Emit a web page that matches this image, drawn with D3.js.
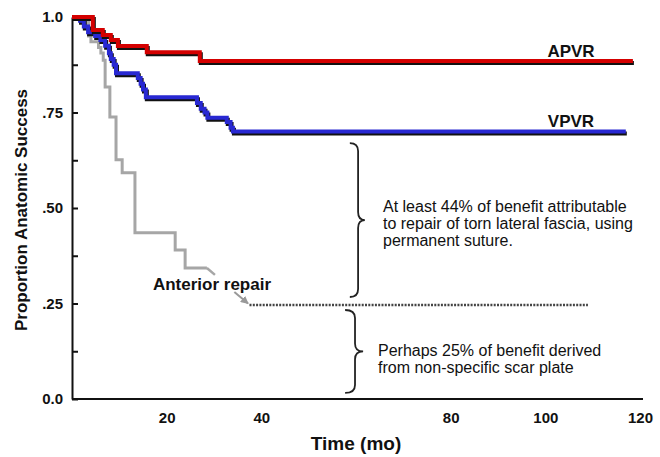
<!DOCTYPE html>
<html>
<head>
<meta charset="utf-8">
<script src="https://cdn.jsdelivr.net/npm/d3@7"></script>
<style>
  body { margin: 0; background: #fff; }
  svg { display: block; font-family: "Liberation Sans", Arial, sans-serif; }
</style>
</head>
<body>
<svg id="chart" width="660" height="457"></svg>
<script>
// Kaplan-Meier style step data (months, proportion)
const apvrTime = [0, 4.4, 6.5, 8.2, 9.7, 15.8, 27, 118.5];
const apvrSurv = [1.0, 0.966, 0.953, 0.94, 0.924, 0.908, 0.885, 0.885];

const vpvrTime = [0, 1.7, 2.5, 3.4, 4.9, 6.0, 7.0, 7.8, 8.2, 8.8, 9.3, 13.9, 14.5, 15.0, 15.6, 26.4, 27.2, 28.0, 28.6, 32.7, 33.5, 34.0, 117];
const vpvrSurv = [1.0, 0.99, 0.975, 0.96, 0.95, 0.94, 0.925, 0.905, 0.89, 0.875, 0.853, 0.84, 0.825, 0.81, 0.79, 0.775, 0.76, 0.75, 0.736, 0.725, 0.71, 0.70, 0.70];

const antTime = [0, 3.5, 4.0, 5.6, 6.1, 6.6, 7.0, 8.0, 9.3, 10.6, 13.3, 21.8, 23.9, 28.5];
const antSurv = [1.0, 0.95, 0.935, 0.92, 0.906, 0.887, 0.817, 0.738, 0.626, 0.592, 0.435, 0.39, 0.343, 0.343];

// projected floor of the anterior repair curve
const floorTime = [37.5, 109];
const floorSurv = [0.246, 0.246];

const yTicks = [0, 0.125, 0.25, 0.375, 0.5, 0.625, 0.75, 0.875, 1.0];
const yLabels = {0: "0.0", 0.25: ".25", 0.5: ".50", 0.75: ".75", 1: "1.0"};
const xTicks = [20, 40, 80, 100, 120];

const noteUpper = ["At least 44% of benefit attributable", "to repair of torn lateral fascia, using", "permanent suture."];
const noteLower = ["Perhaps 25% of benefit derived", "from non-specific scar plate"];

const svg = d3.select("#chart");
const x = d3.scaleLinear().domain([0, 120]).range([72, 640]);
const y = d3.scaleLinear().domain([0, 1]).range([399, 17]);

const zip = (ts, vs) => ts.map((t, i) => [t, vs[i]]);
const step = d3.line().x(d => x(d[0])).y(d => y(d[1])).curve(d3.curveStepAfter);
const straight = d3.line().x(d => x(d[0])).y(d => y(d[1]));

// axes
const yAxis = d3.axisLeft(y)
  .tickValues(yTicks)
  .tickSizeInner(-6)
  .tickSizeOuter(0)
  .tickPadding(9)
  .tickFormat(d => yLabels[d] || "");
const gy = svg.append("g").attr("transform", `translate(${x(0)},0)`).call(yAxis);

const xAxis = d3.axisBottom(x)
  .tickValues(xTicks)
  .tickSize(0)
  .tickPadding(13)
  .tickFormat(d3.format("d"));
const gx = svg.append("g").attr("transform", `translate(0,${y(0)})`).call(xAxis);

[gx, gy].forEach(g => {
  g.select(".domain").attr("stroke", "#111").attr("stroke-width", 2);
  g.selectAll(".tick line").attr("stroke", "#111").attr("stroke-width", 2);
  g.selectAll(".tick text")
    .attr("fill", "#111")
    .style("font-size", "15px")
    .style("font-weight", "bold");
});
gx.select(".domain").attr("d", `M${x(0)},0H${x(120) + 3}`);

svg.append("text")
  .attr("transform", `translate(27,${(y(0) + y(1)) / 2 + 2}) rotate(-90)`)
  .attr("text-anchor", "middle")
  .style("font-size", "17px")
  .style("font-weight", "bold")
  .attr("fill", "#111")
  .text("Proportion Anatomic Success");

svg.append("text")
  .attr("x", 356)
  .attr("y", 450)
  .attr("text-anchor", "middle")
  .style("font-size", "19px")
  .style("font-weight", "bold")
  .attr("fill", "#111")
  .text("Time (mo)");

// anterior repair (gray)
svg.append("path")
  .attr("d", step(zip(antTime, antSurv)))
  .attr("fill", "none")
  .attr("stroke", "#a6a6a6")
  .attr("stroke-width", 3);
svg.append("path")
  .attr("d", straight([[28.5, 0.343], [30.2, 0.325]]))
  .attr("fill", "none")
  .attr("stroke", "#a6a6a6")
  .attr("stroke-width", 2.5);

svg.append("defs").append("marker")
  .attr("id", "arrow")
  .attr("viewBox", "0 0 10 10")
  .attr("refX", 9).attr("refY", 5)
  .attr("markerWidth", 4).attr("markerHeight", 4)
  .attr("orient", "auto")
  .append("path").attr("d", "M0,0L10,5L0,10z").attr("fill", "#999");
svg.append("path")
  .attr("d", straight([[34.3, 0.280], [37.2, 0.250]]))
  .attr("stroke", "#999")
  .attr("stroke-width", 2)
  .attr("marker-end", "url(#arrow)");

svg.append("path")
  .attr("d", straight(zip(floorTime, floorSurv)))
  .attr("fill", "none")
  .attr("stroke", "#444")
  .attr("stroke-width", 2.4)
  .attr("stroke-dasharray", "2,1.3");

svg.append("text")
  .attr("x", x(17.1))
  .attr("y", 290)
  .style("font-size", "17px")
  .style("font-weight", "bold")
  .attr("fill", "#111")
  .text("Anterior repair");

// VPVR and APVR with dark drop shadow
function shadowed(data, color) {
  svg.append("path")
    .attr("d", step(data))
    .attr("transform", "translate(1,2)")
    .attr("fill", "none")
    .attr("stroke", "#111")
    .attr("stroke-width", 4);
  svg.append("path")
    .attr("d", step(data))
    .attr("fill", "none")
    .attr("stroke", color)
    .attr("stroke-width", 4);
}
shadowed(zip(vpvrTime, vpvrSurv), "#2828d2");
shadowed(zip(apvrTime, apvrSurv), "#d40000");

svg.append("text")
  .attr("x", 571).attr("y", 57)
  .attr("text-anchor", "middle")
  .style("font-size", "17px").style("font-weight", "bold")
  .attr("fill", "#111")
  .text("APVR");
svg.append("text")
  .attr("x", 571).attr("y", 127)
  .attr("text-anchor", "middle")
  .style("font-size", "17px").style("font-weight", "bold")
  .attr("fill", "#111")
  .text("VPVR");

// braces
function brace(x0, y0, y1, w) {
  const xm = x0 + w * 0.55, ym = (y0 + y1) / 2, r = 8;
  return `M${x0},${y0}Q${xm},${y0} ${xm},${y0 + r}L${xm},${ym - r}Q${xm},${ym} ${x0 + w},${ym}` +
    `Q${xm},${ym} ${xm},${ym + r}L${xm},${y1 - r}Q${xm},${y1} ${x0},${y1}`;
}
svg.append("path")
  .attr("d", brace(x(58.7), y(0.67), y(0.267), 15))
  .attr("fill", "none").attr("stroke", "#222").attr("stroke-width", 1.8);
svg.append("path")
  .attr("d", brace(x(57.7), y(0.233), y(0.016), 18))
  .attr("fill", "none").attr("stroke", "#222").attr("stroke-width", 1.8);

svg.append("g").selectAll("text")
  .data(noteUpper)
  .join("text")
  .attr("x", 383)
  .attr("y", (d, i) => 212 + i * 16.8)
  .style("font-size", "16px")
  .attr("fill", "#111")
  .text(d => d);

svg.append("g").selectAll("text")
  .data(noteLower)
  .join("text")
  .attr("x", 378)
  .attr("y", (d, i) => 356 + i * 16.5)
  .style("font-size", "16px")
  .attr("fill", "#111")
  .text(d => d);
</script>
</body>
</html>
